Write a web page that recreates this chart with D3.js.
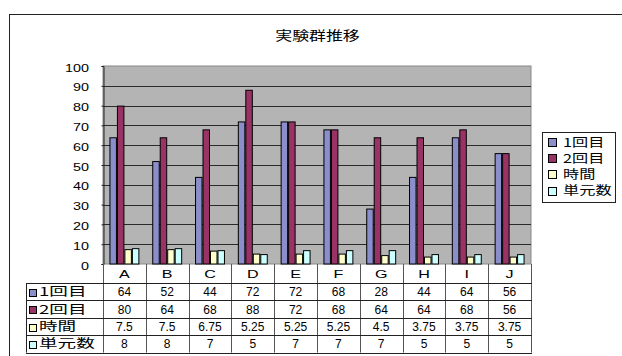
<!DOCTYPE html>
<html>
<head>
<meta charset="utf-8">
<script src="https://cdn.jsdelivr.net/npm/d3@7"></script>
<style>
  html, body { margin: 0; padding: 0; background: #fff; }
  svg { display: block; }
  text { fill: #000; }
  .cjk { font-family: "Noto Sans CJK JP", sans-serif; }
  .num { font-family: "Liberation Sans", Arial, sans-serif; }
</style>
</head>
<body>
<svg id="chart" width="622" height="356"></svg>
<script>
// Data
const categories = ["A", "B", "C", "D", "E", "F", "G", "H", "I", "J"];
const seriesNames = ["1回目", "2回目", "時間", "単元数"];
const round1 = [64, 52, 44, 72, 72, 68, 28, 44, 64, 56];
const round2 = [80, 64, 68, 88, 72, 68, 64, 64, 68, 56];
const timeVals = [7.5, 7.5, 6.75, 5.25, 5.25, 5.25, 4.5, 3.75, 3.75, 3.75];
const unitCounts = [8, 8, 7, 5, 7, 7, 7, 5, 5, 5];
const yTicks = [0, 10, 20, 30, 40, 50, 60, 70, 80, 90, 100];
const chartTitle = "実験群推移";

const seriesValues = [round1, round2, timeVals, unitCounts];
const seriesColors = ["#8a8fcc", "#993366", "#ffffcc", "#ccffff"];

const svg = d3.select("#chart");

// Text placed at (x, y) and widened horizontally by k
function wideText(parent, x, y, k, str, cls, size, anchor) {
  return parent.append("text")
    .attr("class", cls)
    .attr("transform", `translate(${x},${y}) scale(${k},1)`)
    .attr("text-anchor", anchor || "start")
    .attr("font-size", size)
    .text(str);
}

// Outer chart frame (runs past the window on the right and bottom)
svg.append("rect")
  .attr("x", 9.5).attr("y", 14.5)
  .attr("width", 700).attr("height", 400)
  .attr("fill", "#fff").attr("stroke", "#222").attr("stroke-width", 1);

// Title
wideText(svg, 317.5, 39.5, 1.3, chartTitle, "cjk", 13, "middle");

// Plot area
const plot = { left: 103, right: 531, top: 66, bottom: 264 };

const x = d3.scaleBand()
  .domain(categories)
  .range([plot.left, plot.right]);

const y = d3.scaleLinear()
  .domain([0, 100])
  .range([plot.bottom, plot.top]);

const inner = d3.scaleBand()
  .domain(d3.range(seriesNames.length))
  .range([0, x.bandwidth()])
  .paddingOuter(0.86)
  .paddingInner(0);

svg.append("rect")
  .attr("x", plot.left).attr("y", plot.top)
  .attr("width", plot.right - plot.left).attr("height", plot.bottom - plot.top)
  .attr("fill", "#b4b4b4").attr("stroke", "#888").attr("stroke-width", 1);

// Horizontal gridlines
svg.append("g")
  .selectAll("line")
  .data(yTicks.filter(d => d > 0 && d < 100))
  .join("line")
  .attr("x1", plot.left).attr("x2", plot.right)
  .attr("y1", d => Math.round(y(d)) + 0.5).attr("y2", d => Math.round(y(d)) + 0.5)
  .attr("stroke", "#2a2a2a").attr("stroke-width", 1);

// Y axis
const yAxis = svg.append("g")
  .attr("transform", `translate(${plot.left + 0.5},0)`)
  .call(d3.axisLeft(y).tickValues(yTicks).tickSize(2));
yAxis.select(".domain").attr("stroke", "#222");
yAxis.selectAll(".tick line").attr("stroke", "#222");
yAxis.selectAll(".tick text")
  .attr("class", "num")
  .attr("x", 0).attr("dy", "0.36em")
  .attr("transform", "translate(-14.5,1) scale(1.25,1)")
  .attr("font-size", 11.5)
  .attr("fill", "#111");

// Bars
const barRows = categories.map((c, i) => ({ cat: c, vals: seriesValues.map(s => s[i]) }));
const groups = svg.append("g")
  .selectAll("g")
  .data(barRows)
  .join("g")
  .attr("transform", d => `translate(${x(d.cat)},0)`);

groups.selectAll("rect")
  .data(d => d.vals.map((v, k) => ({ v, k })))
  .join("rect")
  .attr("x", d => inner(d.k) + 0.5)
  .attr("y", d => y(d.v) + 0.5)
  .attr("width", inner.bandwidth() - 1)
  .attr("height", d => plot.bottom - y(d.v) - 0.5)
  .attr("fill", d => seriesColors[d.k])
  .attr("stroke", "#000").attr("stroke-width", 1);

// Data table
const headerBottom = 283;
const rowH = 17.4;
const tableLeft = 26;
const table = svg.append("g");
const lineColor = "#222";

// Header row with category names
categories.forEach(c => {
  wideText(table, x(c) + x.bandwidth() / 2, (plot.bottom + headerBottom) / 2 + 4.5,
    1.4, c, "num", 11.5, "middle");
});

// Vertical dividers
const edges = categories.map(c => x(c)).concat([plot.right]);
table.selectAll(".vline")
  .data(edges)
  .join("line")
  .attr("x1", d => Math.round(d) + 0.5).attr("x2", d => Math.round(d) + 0.5)
  .attr("y1", plot.bottom).attr("y2", headerBottom + rowH * 4)
  .attr("stroke", "#555");

table.append("line")
  .attr("x1", tableLeft + 0.5).attr("x2", tableLeft + 0.5)
  .attr("y1", headerBottom).attr("y2", headerBottom + rowH * 4)
  .attr("stroke", lineColor);

// Horizontal row lines
table.selectAll(".hline")
  .data(d3.range(5))
  .join("line")
  .attr("x1", tableLeft).attr("x2", plot.right + 1)
  .attr("y1", k => Math.round(headerBottom + k * rowH) + 0.5)
  .attr("y2", k => Math.round(headerBottom + k * rowH) + 0.5)
  .attr("stroke", lineColor);

// Row labels with swatches and values
seriesNames.forEach((name, k) => {
  const cy = headerBottom + k * rowH + rowH / 2;
  table.append("rect")
    .attr("x", 29.5).attr("y", Math.round(cy - 3) + 0.5)
    .attr("width", 7).attr("height", 7)
    .attr("fill", seriesColors[k]).attr("stroke", "#000");
  wideText(table, 39, cy + 4.5, 1.55, name, "cjk", 12);
  seriesValues[k].forEach((v, i) => {
    table.append("text")
      .attr("class", "num")
      .attr("x", x(categories[i]) + x.bandwidth() / 2)
      .attr("y", cy + 4.5)
      .attr("text-anchor", "middle")
      .attr("font-size", 12)
      .text(v);
  });
});

// Legend
const legend = svg.append("g").attr("transform", "translate(542,132)");
legend.append("rect")
  .attr("x", 0.5).attr("y", 0.5).attr("width", 73).attr("height", 70)
  .attr("fill", "#fff").attr("stroke", "#222");
seriesNames.forEach((name, k) => {
  const cy = 10 + k * 16.2;
  legend.append("rect")
    .attr("x", 6.5).attr("y", Math.round(cy - 4) + 0.5)
    .attr("width", 8).attr("height", 8)
    .attr("fill", seriesColors[k]).attr("stroke", "#000");
  wideText(legend, 21, cy + 4.5, 1.35, name, "cjk", 12);
});
</script>
</body>
</html>
